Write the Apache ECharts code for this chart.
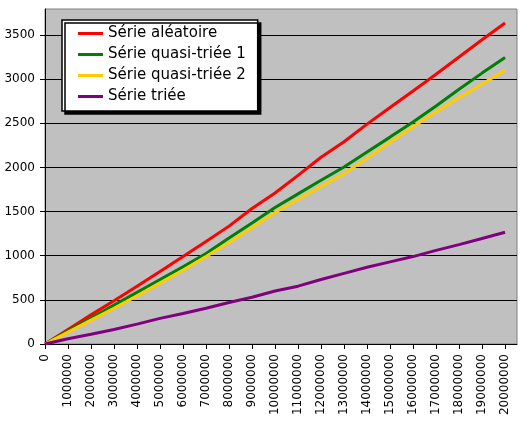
<!DOCTYPE html>
<html>
<head>
<meta charset="utf-8">
<script src="https://cdn.jsdelivr.net/npm/echarts@6/dist/echarts.min.js"></script>
<style>
html,body{margin:0;padding:0;background:#fff;}
#c{width:527px;height:421px;}
</style>
</head>
<body>
<div id="c"></div>
<script>
// Data
var xValues = [0, 1000000, 2000000, 3000000, 4000000, 5000000, 6000000, 7000000, 8000000, 9000000, 10000000,
  11000000, 12000000, 13000000, 14000000, 15000000, 16000000, 17000000, 18000000, 19000000, 20000000];
var xTicks = [0, 1000000, 2000000, 3000000, 4000000, 5000000, 6000000, 7000000, 8000000, 9000000, 10000000,
  11000000, 12000000, 13000000, 14000000, 15000000, 16000000, 17000000, 18000000, 19000000, 20000000];
var yTicks = [0, 500, 1000, 1500, 2000, 2500, 3000, 3500];
var seriesNames = ['Série aléatoire', 'Série quasi-triée 1', 'Série quasi-triée 2', 'Série triée'];
var serieAleatoire = [0, 165, 330, 490, 655, 820, 990, 1160, 1335, 1535, 1710, 1910, 2115, 2290, 2490, 2678, 2866, 3055, 3250, 3445, 3635];
var serieQuasi1 = [0, 150, 295, 440, 585, 730, 875, 1025, 1200, 1370, 1545, 1700, 1855, 2005, 2175, 2343, 2515, 2695, 2885, 3068, 3245];
var serieQuasi2 = [0, 135, 270, 405, 545, 690, 835, 990, 1150, 1320, 1490, 1640, 1785, 1930, 2105, 2285, 2460, 2630, 2790, 2945, 3102];
var serieTriee = [0, 60, 110, 165, 225, 290, 345, 405, 470, 530, 600, 655, 730, 800, 870, 930, 990, 1060, 1125, 1195, 1265];
var colors = ['#ff0000', '#008000', '#ffcc00', '#800080'];

function pairs(ys) { return xValues.map(function (x, i) { return [x, ys[i]]; }); }
var allSeries = [serieAleatoire, serieQuasi1, serieQuasi2, serieTriee];

var chart = echarts.init(document.getElementById('c'), null, {renderer: 'canvas'});
chart.setOption({
  animation: false,
  backgroundColor: '#ffffff',
  grid: {
    left: 45, top: 9, right: 10, bottom: 77,
    show: true, backgroundColor: '#c0c0c0', borderColor: '#808080', borderWidth: 1
  },
  legend: {
    orient: 'vertical',
    left: 62, top: 20,
    padding: [3, 12, 4, 16],
    itemGap: 0,
    itemWidth: 25, itemHeight: 3,
    icon: 'rect',
    backgroundColor: '#ffffff',
    borderColor: '#000000', borderWidth: 1.5,
    shadowColor: '#000000', shadowBlur: 0, shadowOffsetX: 3, shadowOffsetY: 3,
    textStyle: {fontFamily: 'DejaVu Sans', fontSize: 15, color: '#000', lineHeight: 21},
    data: seriesNames
  },
  xAxis: {
    type: 'value',
    min: 0, max: 20520000,
    axisLine: {show: true, lineStyle: {color: '#000', width: 1}},
    axisTick: {show: true, length: 5, customValues: xTicks, lineStyle: {color: '#000'}},
    axisLabel: {
      customValues: xTicks,
      rotate: 90, margin: 10,
      fontFamily: 'DejaVu Sans', fontSize: 12, color: '#000',
      formatter: function (v) { return String(v); }
    },
    splitLine: {show: false}
  },
  yAxis: {
    type: 'value',
    min: 0, max: 3794,
    axisLine: {show: true, lineStyle: {color: '#000', width: 1}},
    axisTick: {show: true, length: 5, customValues: yTicks, lineStyle: {color: '#000'}},
    axisLabel: {
      customValues: yTicks,
      margin: 10,
      fontFamily: 'DejaVu Sans', fontSize: 12, color: '#000',
      formatter: function (v) { return String(v); }
    },
    splitLine: {show: true, lineStyle: {color: '#000', width: 1}}
  },
  series: allSeries.map(function (s, i) {
    return {
      name: seriesNames[i],
      type: 'line',
      data: pairs(s),
      showSymbol: false,
      symbol: 'none',
      color: colors[i],
      lineStyle: {color: colors[i], width: 3}
    };
  })
});
</script>
</body>
</html>
